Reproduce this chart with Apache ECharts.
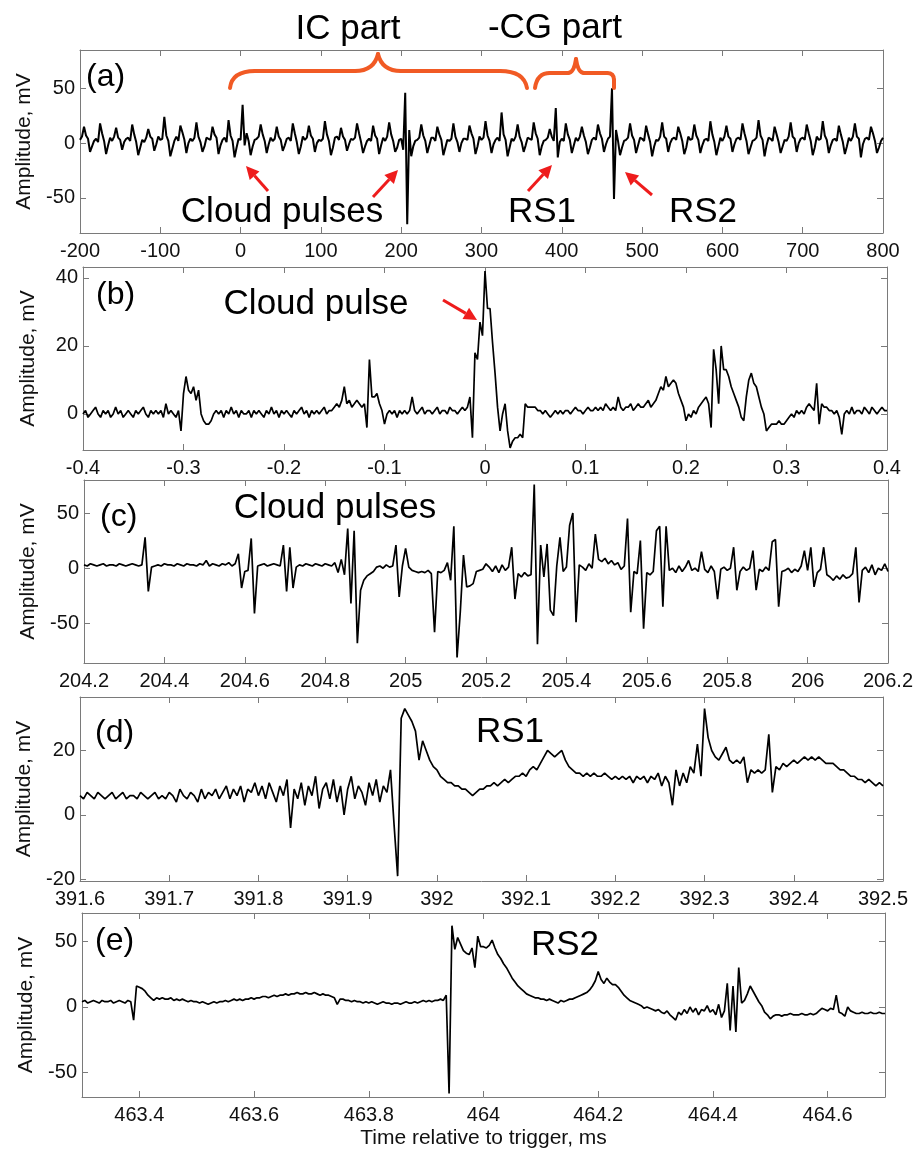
<!DOCTYPE html>
<html>
<head>
<meta charset="utf-8">
<title>Cloud pulses and return strokes</title>
<script src="https://cdn.jsdelivr.net/npm/echarts@6.0.0/dist/echarts.min.js"></script>
<style>
  html, body { margin: 0; padding: 0; background: #fff; }
  #chart { width: 917px; height: 1151px; }
</style>
</head>
<body>
<div id="chart"></div>
<script>

// (a) -200 .. 800 ms, step 2.5 ms, one row = 20 ms
const startA = -200, stepA = 2.5;
const sigA = [
  3, 6, 15, 7, 4, -8, -3, 2,
  4, 1, 18, 9, 2, -10, -2, 5,
  2, 6, 14, 5, 3, -6, 1, 4,
  5, 2, 17, 8, 1, -11, -4, 3,
  1, 5, 13, 6, 4, -7, -1, 6,
  3, 4, 24, 7, 2, -12, -5, 2,
  6, 2, 16, 10, 3, -9, 0, 4,
  2, 5, 19, 6, 1, -8, -3, 5,
  4, 3, 15, 8, 5, -10, -2, 3,
  5, 1, 21, 7, 2, -13, -4, 4,
  3, 35, -2, 9, 2, -11, -3, 3,
  4, 6, 17, 8, 2, -9, -1, 5,
  2, 4, 15, 6, 3, -7, -2, 4,
  5, 2, 18, 9, 1, -10, -3, 6,
  3, 5, 16, 7, 4, -8, 0, 3,
  2, 4, 20, 8, 2, -11, -4, 5,
  6, 3, 14, 6, 3, -7, -1, 4,
  3, 5, 18, 9, 1, -9, -3, 2,
  4, 2, 16, 7, 4, -10, -2, 5,
  2, 6, 19, 8, 2, -8, -4, 3,
  4, -6, 46, -74, 12, -12, -3, 2,
  3, 5, 17, 7, 2, -9, -2, 5,
  5, 2, 15, 8, 3, -11, -4, 3,
  2, 4, 18, 6, 1, -8, 0, 4,
  4, 3, 16, 9, 4, -10, -3, 6,
  3, 5, 20, 7, 2, -9, -1, 3,
  5, 2, 28, 8, 3, -12, -4, 4,
  2, 6, 17, 6, 1, -8, -2, 5,
  4, 3, 19, 9, 4, -11, -3, 2,
  3, 5, 13, 6, 2, 32, -13, 1,
  4, 2, 18, 8, 3, -9, -2, 5,
  2, 6, 15, 7, 1, -10, -4, 3,
  5, 3, 17, 9, 4, -8, -1, 4,
  6, 50, -51, 12, 2, -11, -4, 2,
  3, 5, 18, 7, 3, -9, -2, 5,
  4, 2, 16, 8, 1, -12, -3, 3,
  2, 6, 19, 6, 4, -8, 0, 4,
  5, 3, 15, 9, 2, -10, -4, 6,
  3, 4, 17, 7, 3, -9, -2, 3,
  4, 2, 20, 8, 1, -11, -3, 5,
  2, 6, 16, 6, 4, -8, -1, 4,
  5, 3, 18, 9, 2, -10, -4, 2,
  3, 5, 21, 7, 3, -12, -2, 5,
  4, 2, 15, 8, 1, -9, -3, 3,
  2, 6, 19, 6, 4, -8, 0, 4,
  5, 3, 17, 9, 2, -11, -4, 6,
  3, 4, 20, 7, 3, -9, -2, 3,
  4, 2, 16, 8, 1, -10, -3, 5,
  2, 6, 18, 6, 4, -13, -1, 4,
  5, 3, 15, 9, 2, -9, -4, 2,
  5
];

// (b) -0.4 .. 0.4 ms, step 0.0025 ms, one row = 0.025 ms
const startB = -0.4, stepB = 0.0025;
const sigB = [
  0, 1, -1, 0, 1, 2, 0, -1, 1, 0,
  1, -1, 0, 2, 0, 1, -1, 0, 1, 0,
  -1, 1, 0, 1, 2, 0, -1, 1, 0, 1,
  0, 1, -1, 3, 0, 1, 0, -1, 1, -5,
  6, 11, 7, 6, 8, 4, 7, 0, -2, -3,
  -3, -2, 0, 1, 0, 1, -1, 1, 0, 2,
  0, 1, -1, 1, 0, 0, 1, -1, 1, 0,
  1, 0, -1, 1, 0, 2, 0, 1, -1, 1,
  0, 1, 0, -1, 1, 0, 1, 2, 0, 1,
  -1, 1, 0, 1, 0, 1, 2, 0, 1, 1,
  2, 3, 2, 4, 8, 3, 4, 2, 3, 4,
  3, 2, 3, -4, 16, 5, 5, 6, 3, 1,
  -3, 0, 1, 0, 1, -1, 1, 0, 1, 0,
  1, 5, 1, 0, 1, 2, 0, 1, 1, 0,
  1, 2, 0, 1, 1, 0, 2, 1, 1, 0,
  1, 2, 1, 2, 5, -7, 18, 16, 27, 23,
  42, 31, 31, 21, 12, 2, -5, 0, 3, -5,
  -10, -8, -7, -7, -6, -7, 3, 2, 2, 2,
  2, 1, 1, 0, 1, 0, -1, 0, 1, 0,
  1, 0, 1, 1, 0, 1, 2, 1, 1, 0,
  1, 2, 1, 1, 2, 1, 2, 1, 3, 2,
  1, 2, 1, 5, 2, 1, 2, 2, 3, 1,
  2, 3, 2, 2, 3, 4, 2, 3, 4, 6,
  8, 7, 11, 8, 9, 10, 9, 6, 4, 2,
  -2, 0, -1, 1, 0, 2, 3, 4, 5, 3,
  -4, 19, 13, 3, 20, 13, 13, 11, 8, 6,
  4, 2, -1, -2, 5, 10, 12, 9, 8, 5,
  2, 0, -5, -4, -3, -3, -3, -2, -3, -3,
  -2, -1, 0, -1, 1, 0, 1, 0, 2, 3,
  2, 1, 9, -3, 3, 2, 2, 1, 1, 0,
  1, -1, -6, 0, 1, 0, 2, 0, 1, 1,
  0, 2, 1, 0, 2, 1, 0, 1, 2, 1,
  1
];

// (c) 204.2 .. 206.2 ms, step 0.008 ms, one row = 0.08 ms
const startC = 204.2, stepC = 0.008;
const sigC = [
  3, 2, 4, 3, 2, 3, 4, 2, 3, 3,
  2, 4, 3, 2, 3, 4, 3, 2, 3, 28,
  -21, 1, 2, 3, 2, 4, 3, 3, 2, 4,
  3, 2, 4, 3, 3, 2, 4, 3, 7, 2,
  4, 3, 2, 4, 3, 5, 2, 4, 13, -18,
  -3, -2, 27, -41, 2, 3, 4, 2, 3, 4,
  3, 2, 21, -21, 19, -18, 1, 3, 2, 4,
  3, 2, 4, 3, 2, 4, 3, 2, 5, -4,
  8, -6, 36, -32, 34, -68, -20, -11, -7, -5,
  -3, 1, 2, 0, 3, 1, 2, 21, -26, 2,
  18, 1, -2, -3, -4, -3, -4, -2, -5, -58,
  -3, -4, -2, 5, -11, 38, -81, -40, 12, -17,
  -16, -14, -3, -2, -1, 4, 1, -3, 2, -4,
  3, -2, 1, 19, -28, -5, -8, -4, -7, -6,
  76, -69, 21, -8, 22, -38, -43, 2, 28, -3,
  1, 39, 50, -49, 3, 1, -2, 4, 0, 31,
  8, 6, 9, 4, 7, 3, 5, -1, 2, 45,
  -40, -3, -5, 25, -55, -4, -6, -3, 34, 38,
  -35, 38, -2, 0, -4, 2, -3, 1, 7, -2,
  0, -3, 15, -1, -4, 2, -3, -28, -1, 1,
  -2, 0, 19, -20, -3, 1, -2, 0, 16, -20,
  -1, -3, 1, -2, 24, 26, -35, -3, -2, 0,
  -4, -1, -3, 2, 16, -2, 19, -17, -4, -1,
  19, -6, -8, -11, -7, -10, -6, -9, -8, -5,
  19, -31, -2, 1, -4, 3, -6, 0, -2, 4,
  -3
];

// (d) 391.6 .. 392.5 ms, step 0.004 ms, one row = 0.04 ms
const startD = 391.6, stepD = 0.004;
const sigD = [
  6, 5, 7, 6, 5, 7, 6, 5, 6, 7,
  5, 6, 7, 5, 6, 6, 5, 7, 6, 5,
  6, 7, 5, 6, 5, 7, 6, 4, 8, 6,
  5, 7, 6, 4, 8, 5, 7, 6, 8, 5,
  7, 9, 5, 8, 6, 9, 4, 8, 7, 10,
  6, 9, 5, 10, 7, 4, 9, 6, 11, -4,
  8, 5, 10, 3, 9, 6, 12, 2, 8, 10,
  5, 11, 4, 9, 0, 8, 12, 5, 9, 7,
  3, 10, 6, 11, 4, 9, 7, 14, -3, -19,
  30, 33, 31, 29, 26, 17, 23, 20, 17, 15,
  14, 12, 11, 10, 10, 9, 9, 8, 8, 7,
  6, 7, 8, 8, 9, 9, 10, 9, 10, 11,
  10, 11, 12, 12, 13, 12, 14, 15, 14, 16,
  18, 20, 19, 18, 19, 20, 17, 15, 14, 13,
  13, 12, 13, 12, 13, 12, 12, 13, 12, 11,
  12, 11, 12, 11, 12, 10, 12, 11, 12, 10,
  12, 11, 13, 9, 12, 10, 3, 14, 9, 13,
  10, 15, 13, 22, 12, 33, 24, 20, 18, 17,
  19, 21, 17, 16, 17, 16, 18, 10, 14, 13,
  14, 13, 14, 25, 7, 15, 14, 16, 15, 16,
  17, 16, 17, 18, 17, 18, 17, 18, 17, 16,
  16, 16, 15, 14, 14, 13, 12, 12, 11, 11,
  10, 11, 10, 9, 10, 9
];

// (e) 463.3 .. 464.7 ms, step 0.005 ms, one row = 0.05 ms
const startE = 463.3, stepE = 0.005;
const sigE = [
  4, 5, 3, 4, 5, 4, 3, 5, 4, 4,
  5, 3, 4, 5, 4, 3, 5, 4, -10, 16,
  15, 14, 12, 9, 7, 5, 7, 6, 7, 6,
  6, 7, 5, 6, 5, 6, 5, 4, 5, 4,
  4, 3, 4, 3, 2, 3, 4, 3, 4, 4,
  5, 4, 5, 6, 5, 6, 5, 6, 6, 7,
  6, 7, 7, 8, 8, 7, 8, 9, 8, 9,
  9, 10, 9, 10, 10, 11, 10, 10, 11, 10,
  10, 11, 10, 9, 10, 9, 9, 8, 7, 2,
  6, 6, 5, 5, 4, 5, 4, 4, 3, 4,
  3, 4, 3, 2, 3, 4, 3, 3, 2, 3,
  3, 2, 3, 4, 3, 3, 4, 3, 4, 5,
  4, 5, 4, 5, 5, 6, 5, 9, -66, 62,
  44, 53, 48, 43, 41, 40, 45, 30, 54, 46,
  46, 45, 47, 51, 45, 40, 37, 33, 30, 26,
  22, 19, 16, 14, 12, 10, 9, 8, 7, 7,
  6, 6, 5, 6, 5, 4, 3, 5, 4, 5,
  6, 6, 7, 8, 9, 10, 11, 13, 16, 20,
  27, 21, 18, 22, 19, 17, 17, 15, 12, 9,
  7, 5, 4, 3, 2, 1, -1, 0, -1, -2,
  -3, -2, -4, -5, -3, -6, -8, -10, -4, -6,
  -2, -5, 0, -4, -1, -6, -2, -3, 1, -4,
  -2, -6, 2, -8, -3, 18, -18, 16, -19, 30,
  3, 5, 10, 16, 12, 8, 4, 1, -4, -6,
  -9, -7, -6, -6, -7, -6, -6, -5, -6, -6,
  -6, -5, -6, -6, -5, -6, -5, -3, -1, -2,
  -3, -1, -2, 9, -4, -5, -7, 0, -3, -4,
  -5, -5, -4, -5, -5, -4, -5, -5, -4, -5,
  -5
];

// tick values
const xTicksA = [-200, -100, 0, 100, 200, 300, 400, 500, 600, 700, 800];
const xTicksB = [-0.4, -0.3, -0.2, -0.1, 0, 0.1, 0.2, 0.3, 0.4];
const xTicksC = [204.2, 204.4, 204.6, 204.8, 205, 205.2, 205.4, 205.6, 205.8, 206, 206.2];
const xTicksD = [391.6, 391.7, 391.8, 391.9, 392, 392.1, 392.2, 392.3, 392.4, 392.5];
const xTicksE = [463.4, 463.6, 463.8, 464, 464.2, 464.4, 464.6];
const yTicksA = [-50, 0, 50];
const yTicksB = [0, 20, 40];
const yTicksC = [-50, 0, 50];
const yTicksD = [-20, 0, 20];
const yTicksE = [-50, 0, 50];

// ---- layout ----
const panels = [
  { box: { left: 80, top: 50, width: 803, height: 183 }, xr: [-200, 800], yr: [-82, 85],
    xt: xTicksA, yt: yTicksA, start: startA, step: stepA, sig: sigA, lw: 2 },
  { box: { left: 83, top: 267, width: 804, height: 183 }, xr: [-0.4, 0.4], yr: [-10.6, 43.2],
    xt: xTicksB, yt: yTicksB, start: startB, step: stepB, sig: sigB, lw: 1.7 },
  { box: { left: 84, top: 480, width: 804, height: 183 }, xr: [204.2, 206.2], yr: [-86, 80],
    xt: xTicksC, yt: yTicksC, start: startC, step: stepC, sig: sigC, lw: 1.7 },
  { box: { left: 80, top: 697, width: 803, height: 184 }, xr: [391.6, 392.5], yr: [-20.5, 36.6],
    xt: xTicksD, yt: yTicksD, start: startD, step: stepD, sig: sigD, lw: 1.7 },
  { box: { left: 82, top: 913, width: 803, height: 184 }, xr: [463.3, 464.7], yr: [-68.7, 71.7],
    xt: xTicksE, yt: yTicksE, start: startE, step: stepE, sig: sigE, lw: 1.7 }
];

const FONT = '"Liberation Sans", Arial, sans-serif';
const AXIS = '#7a7a7a';
const RED = '#ee1c1c';
const ORANGE = '#f15a24';
const fmt = v => String(Math.round(v * 1000) / 1000);

const grid = [], xAxis = [], yAxis = [], series = [];
panels.forEach((p, k) => {
  grid.push(Object.assign({ show: false }, p.box));
  const line = { onZero: false, lineStyle: { color: AXIS, width: 1 } };
  const tick = vals => ({ inside: true, length: 6, customValues: vals, lineStyle: { color: AXIS } });
  xAxis.push({
    type: 'value', gridIndex: k, position: 'bottom', min: p.xr[0], max: p.xr[1],
    axisLine: line, axisTick: tick(p.xt), splitLine: { show: false },
    axisLabel: { customValues: p.xt, formatter: fmt, color: '#111', fontSize: 20, fontFamily: FONT, margin: 8 },
    name: k === 4 ? 'Time relative to trigger, ms' : '', nameLocation: 'middle', nameGap: 31,
    nameTextStyle: { color: '#111', fontSize: 21, fontFamily: FONT }
  });
  xAxis.push({
    type: 'value', gridIndex: k, position: 'top', min: p.xr[0], max: p.xr[1],
    axisLine: line, axisTick: tick(p.xt), axisLabel: { show: false }, splitLine: { show: false }
  });
  yAxis.push({
    type: 'value', gridIndex: k, position: 'left', min: p.yr[0], max: p.yr[1],
    axisLine: line, axisTick: tick(p.yt), splitLine: { show: false },
    axisLabel: { customValues: p.yt, formatter: fmt, color: '#111', fontSize: 20, fontFamily: FONT, margin: 5 },
    name: 'Amplitude, mV', nameLocation: 'middle', nameGap: 44,
    nameTextStyle: { color: '#111', fontSize: 21, fontFamily: FONT }
  });
  yAxis.push({
    type: 'value', gridIndex: k, position: 'right', min: p.yr[0], max: p.yr[1],
    axisLine: line, axisTick: tick(p.yt), axisLabel: { show: false }, splitLine: { show: false }
  });
  series.push({
    type: 'line', xAxisIndex: 2 * k, yAxisIndex: 2 * k, showSymbol: false,
    lineStyle: { color: '#000', width: p.lw }, silent: true,
    data: p.sig.map((v, i) => [p.start + p.step * i, v])
  });
});

// ---- annotations ----
function text(str, x, y, size, align) {
  return { type: 'text', x: x, y: y, z: 10,
    style: { text: str, fill: '#000', font: size + 'px ' + FONT, align: align || 'center', verticalAlign: 'middle' } };
}
function arrow(x1, y1, x2, y2) {
  const dx = x2 - x1, dy = y2 - y1, L = Math.hypot(dx, dy), ux = dx / L, uy = dy / L;
  const hl = 13, hw = 6.5, bx = x2 - ux * hl, by = y2 - uy * hl;
  return [
    { type: 'line', z: 10, shape: { x1: x1, y1: y1, x2: bx, y2: by }, style: { stroke: RED, lineWidth: 3 } },
    { type: 'polygon', z: 10, shape: { points: [[x2, y2], [bx - uy * hw, by + ux * hw], [bx + uy * hw, by - ux * hw]] }, style: { fill: RED } }
  ];
}
// curly brace pieces: straight runs and quadratic bends
const braceStyle = { stroke: ORANGE, lineWidth: 4, fill: null, lineCap: 'round' };
function seg(x1, y1, x2, y2) {
  return { type: 'line', z: 10, shape: { x1: x1, y1: y1, x2: x2, y2: y2 }, style: braceStyle };
}
function bend(x1, y1, cx, cy, x2, y2) {
  return { type: 'bezierCurve', z: 10, shape: { x1: x1, y1: y1, cpx1: cx, cpy1: cy, x2: x2, y2: y2 }, style: braceStyle };
}
const graphic = [
  text('IC part', 348, 29, 35),
  text('-CG part', 555, 28, 35),
  bend(230, 88, 232, 71, 255, 71), seg(255, 71, 355, 71), bend(355, 71, 374, 71, 378, 54),
  bend(378, 54, 382, 71, 401, 71), seg(401, 71, 500, 71), bend(500, 71, 524, 71, 527, 88),
  bend(535, 88, 537, 73, 550, 73), seg(550, 73, 568, 73), bend(568, 73, 574, 73, 576, 59),
  bend(576, 59, 578, 73, 584, 73), seg(584, 73, 607, 73), bend(607, 73, 614, 73, 614, 80), seg(614, 80, 614, 88),
  text('(a)', 86, 77, 32, 'left'),
  text('Cloud pulses', 282, 212, 35),
  text('RS1', 542, 212, 35),
  text('RS2', 703, 212, 35),
  ...arrow(268, 191, 246, 166),
  ...arrow(373, 197, 398, 170),
  ...arrow(528, 191, 552, 165),
  ...arrow(652, 195, 625, 172),
  text('(b)', 96, 295, 32, 'left'),
  text('Cloud pulse', 316, 304, 35),
  ...arrow(443, 300, 477, 320),
  text('(c)', 100, 517, 32, 'left'),
  text('Cloud pulses', 335, 508, 35),
  text('(d)', 95, 733, 32, 'left'),
  text('RS1', 510, 732, 35),
  text('(e)', 95, 941, 32, 'left'),
  text('RS2', 565, 945, 35)
];

const chart = echarts.init(document.getElementById('chart'));
chart.setOption({
  animation: false,
  backgroundColor: '#fff',
  grid: grid,
  xAxis: xAxis,
  yAxis: yAxis,
  series: series,
  graphic: graphic
});
</script>
</body>
</html>
